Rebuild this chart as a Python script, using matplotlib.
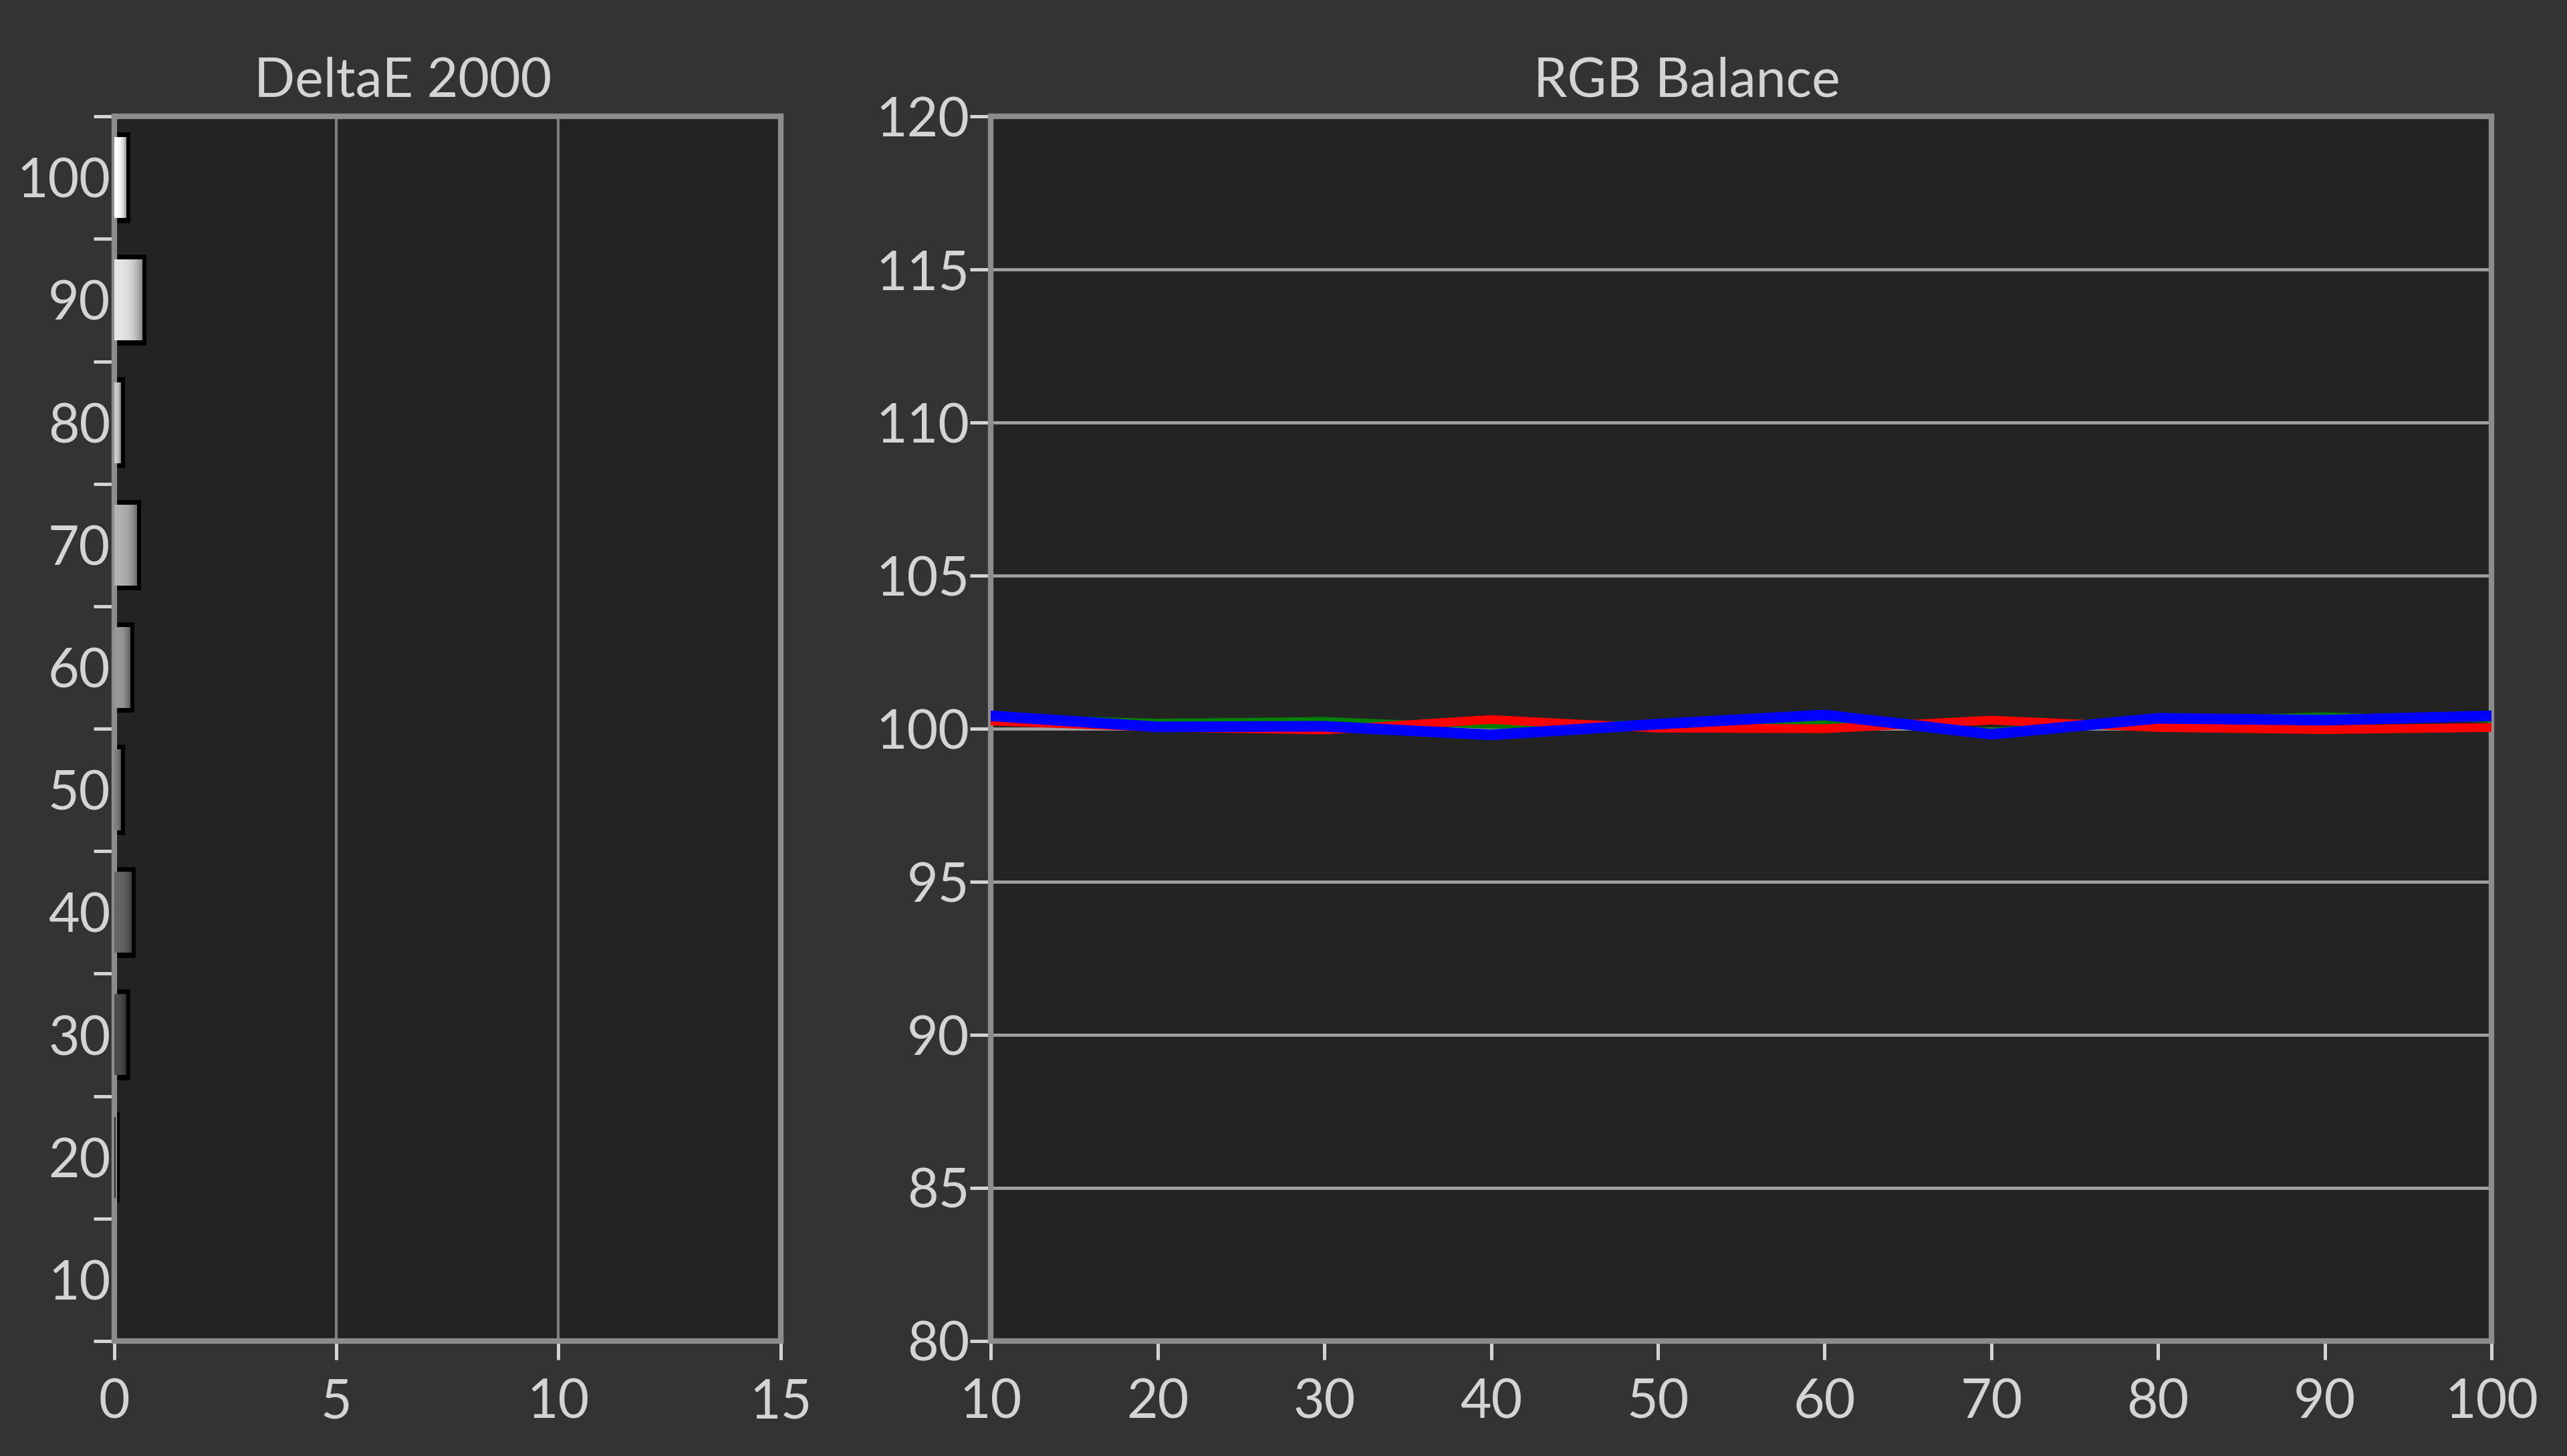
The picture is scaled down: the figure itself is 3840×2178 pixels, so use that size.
import numpy as np
import matplotlib
matplotlib.use('Agg')
import matplotlib.pyplot as plt
from matplotlib.ticker import FixedLocator

plt.rcParams['font.family'] = ['Lato', 'DejaVu Sans']

# data
levels = [10, 20, 30, 40, 50, 60, 70, 80, 90, 100]
delta_e = [0.0, 0.02, 0.27, 0.38, 0.14, 0.35, 0.5, 0.14, 0.62, 0.27]

rgb_x = [10, 20, 30, 40, 50, 60, 70, 80, 90, 100]
red_vals = [100.25, 100.05, 99.96, 100.3, 100.02, 100.0, 100.28, 100.04, 99.97, 100.04]
green_vals = [100.4, 100.24, 100.3, 100.08, 100.2, 100.22, 99.95, 100.3, 100.45, 100.28]
blue_vals = [100.42, 100.06, 100.08, 99.8, 100.15, 100.45, 99.82, 100.34, 100.28, 100.42]

fig_bg = '#333333'
ax_bg = '#232323'
txt = '#d4d4d4'
spine_col = '#8c8c8c'

fig = plt.figure(figsize=(38.4, 21.78), dpi=100, facecolor=fig_bg)
ax1 = fig.add_axes([0.0445, 0.079, 0.2596, 0.841], facecolor=ax_bg)
ax2 = fig.add_axes([0.386, 0.079, 0.5846, 0.841], facecolor=ax_bg)

for ax in (ax1, ax2):
    for s in ax.spines.values():
        s.set_color(spine_col)
        s.set_linewidth(6)

# ---- DeltaE 2000 bars ----
ax1.set_xlim(0, 15)
ax1.set_ylim(5, 105)
for gx in [5, 10]:
    ax1.axvline(gx, color='#808080', lw=3, zorder=1)

bar_h = 6.6
for lv, val in zip(levels, delta_e):
    if val <= 0:
        continue
    # black shadow/outline behind the bar
    ax1.barh(lv, val + 0.1, height=bar_h + 0.8, left=0, color='black', zorder=2)
    g = lv / 100.0
    t = np.linspace(0, 1, 64)
    shade = g * (1 - 0.4 * t ** 3)
    img = np.dstack([shade, shade, shade]).reshape(1, 64, 3)
    ax1.imshow(img, extent=[0, val, lv - bar_h / 2, lv + bar_h / 2],
               aspect='auto', zorder=3, interpolation='bilinear')
ax1.set_xlim(0, 15)
ax1.set_ylim(5, 105)

ax1.set_xticks([0, 5, 10, 15])
ax1.set_yticks(levels)
ax1.yaxis.set_minor_locator(FixedLocator(np.arange(5, 106, 10)))
ax1.tick_params(axis='y', which='major', length=0, pad=4, labelsize=58, labelcolor=txt)
ax1.tick_params(axis='y', which='minor', length=22, width=3.6, color=txt, direction='out')
ax1.tick_params(axis='x', length=20, width=3.6, color=txt, pad=20, labelsize=58, labelcolor=txt)

# ---- RGB Balance lines ----
ax2.set_xlim(10, 100)
ax2.set_ylim(80, 120)
ax2.set_xticks(np.arange(10, 101, 10))
ax2.set_yticks(np.arange(80, 121, 5))
ax2.grid(axis='y', color='#a0a0a0', lw=3.4, zorder=1)
ax2.set_axisbelow(True)
ax2.plot(rgb_x, green_vals, color='#008000', lw=5.5, zorder=3, solid_joinstyle='miter')
ax2.plot(rgb_x, red_vals, color='#ff0000', lw=9.5, zorder=4, solid_joinstyle='miter')
ax2.plot(rgb_x, blue_vals, color='#0000ff', lw=11.5, zorder=5, solid_joinstyle='miter')
ax2.tick_params(axis='y', length=22, width=3.6, color=txt, pad=1, labelsize=58, labelcolor=txt)
ax2.tick_params(axis='x', length=20, width=3.6, color=txt, pad=20, labelsize=58, labelcolor=txt)

fig.text(0.157, 0.944, 'DeltaE 2000', color=txt, fontsize=58, ha='center', va='center')
fig.text(0.657, 0.944, 'RGB Balance', color=txt, fontsize=58, ha='center', va='center')

fig.savefig('out.png', dpi=100, facecolor=fig_bg)
